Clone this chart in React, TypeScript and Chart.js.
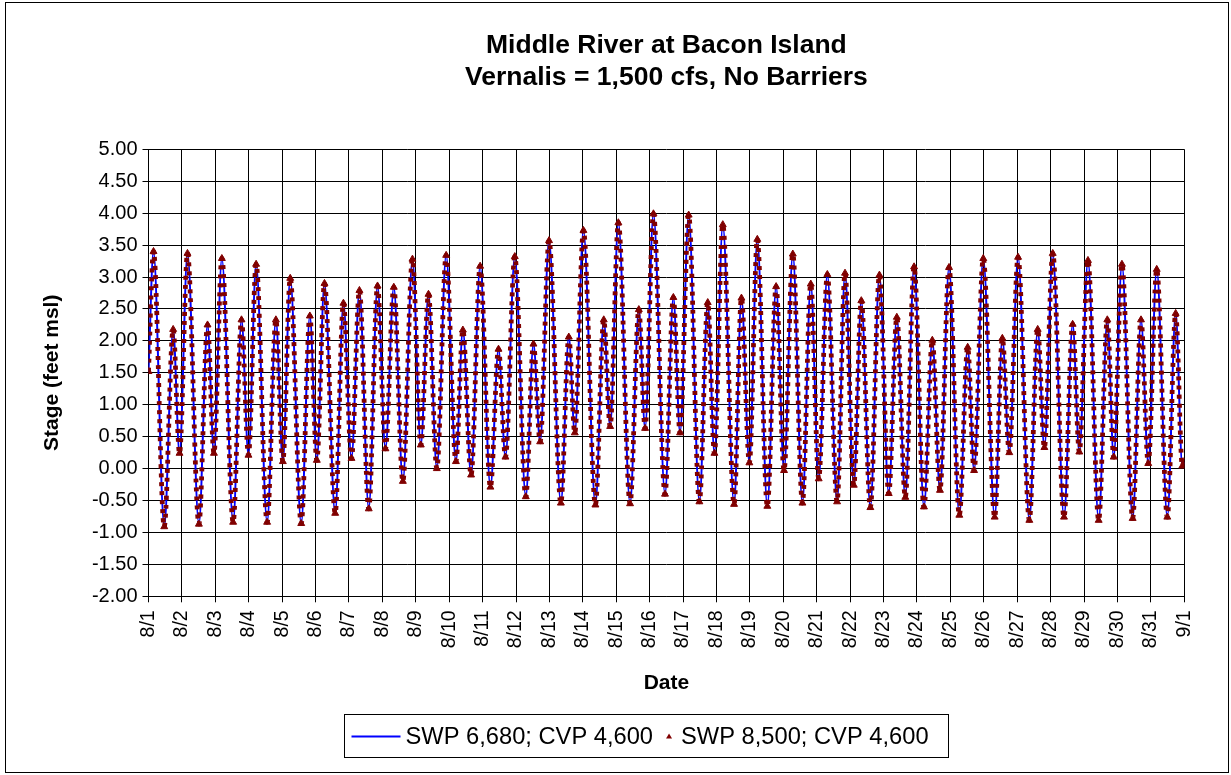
import { useEffect, useRef } from "react";
import { Chart, registerables } from "chart.js";

Chart.register(...registerables);

const FONT = '"Liberation Sans", Arial, Helvetica, sans-serif';

const titleLines = ["Middle River at Bacon Island", "Vernalis = 1,500 cfs, No Barriers"];
const seriesNames = ["SWP 6,680; CVP 4,600", "SWP 8,500; CVP 4,600"];
const yAxisTitle = "Stage (feet msl)";
const xAxisTitle = "Date";

// one label per day boundary, hour 0 = 8/1 00:00
const dayLabels = [
  "8/1", "8/2", "8/3", "8/4", "8/5", "8/6", "8/7", "8/8", "8/9", "8/10",
  "8/11", "8/12", "8/13", "8/14", "8/15", "8/16", "8/17", "8/18", "8/19", "8/20",
  "8/21", "8/22", "8/23", "8/24", "8/25", "8/26", "8/27", "8/28", "8/29", "8/30",
  "8/31", "9/1",
];

// tidal turning points: hours since 8/1 00:00
const tideHours = [
  0, 3.6, 11.3, 17.7, 22.3, 28.0, 36.2, 42.4, 47.0, 52.7,
  60.8, 66.8, 71.8, 77.3, 85.2, 91.5, 96.5, 101.8, 109.7, 115.9,
  120.9, 126.4, 134.1, 140.0, 145.8, 151.5, 158.2, 164.5, 170.2, 176.2,
  182.7, 189.6, 195.6, 201.1, 207.1, 213.8, 220.8, 225.8, 231.7, 238.2,
  245.6, 251.4, 256.4, 263.1, 271.0, 276.5, 281.3, 287.7, 296.2, 301.9,
  306.2, 312.4, 321.0, 327.0, 331.6, 337.5, 345.9, 352.2, 356.7, 362.7,
  371.0, 377.0, 381.8, 388.0, 395.7, 401.7, 406.5, 412.5, 420.6, 425.9,
  431.6, 437.3, 444.5, 450.8, 456.5, 462.8, 469.7, 475.7, 481.4, 487.6,
  494.6, 500.3, 506.6, 512.0, 518.5, 525.0, 531.7, 537.5, 543.6, 549.9,
  557.0, 563.0, 568.5, 575.0, 582.4, 588.4, 593.0, 599.6, 607.8, 613.3,
  618.3, 624.6, 632.7, 638.7, 643.5, 649.5, 657.6, 663.8, 668.6, 674.8,
  682.5, 688.7, 693.3, 699.2, 706.9, 712.9, 718.1, 724.2, 731.8, 737.8,
  742.6, 744.0,
];

// stage (feet msl) at each turning point, SWP 6,680 cfs run
const stageSwp6680 = [
  1.52, 3.40, -0.91, 2.18, 0.24, 3.37, -0.87, 2.25, 0.24, 3.29,
  -0.84, 2.33, 0.21, 3.20, -0.84, 2.33, 0.11, 2.98, -0.86, 2.39,
  0.13, 2.90, -0.70, 2.59, 0.16, 2.79, -0.63, 2.86, 0.31, 2.84,
  -0.20, 3.28, 0.37, 2.73, 0.00, 3.34, 0.11, 2.17, -0.10, 3.17,
  -0.29, 1.87, 0.18, 3.32, -0.44, 1.95, 0.42, 3.57, -0.54, 2.06,
  0.56, 3.73, -0.57, 2.33, 0.66, 3.85, -0.55, 2.49, 0.63, 3.99,
  -0.40, 2.68, 0.56, 3.97, -0.52, 2.60, 0.24, 3.82, -0.56, 2.67,
  0.09, 3.59, -0.59, 2.85, -0.03, 3.36, -0.54, 2.89, -0.16, 3.04,
  -0.52, 3.06, -0.26, 2.63, -0.61, 3.03, -0.39, 2.37, -0.45, 3.16,
  -0.60, 2.01, -0.34, 3.15, -0.73, 1.90, -0.03, 3.29, -0.76, 2.04,
  0.25, 3.31, -0.81, 2.18, 0.33, 3.37, -0.76, 2.26, 0.26, 3.26,
  -0.81, 2.33, 0.18, 3.20, -0.78, 2.33, 0.08, 3.12, -0.76, 2.43,
  0.04, 0.10,
];

// SWP 8,500 cfs run: stage is indistinguishable from the 6,680 cfs run at this scale
const stageSwp8500 = stageSwp6680.slice();

const toPoints = (vals: number[]) => tideHours.map((h, i) => ({ x: h, y: vals[i] }));

const BLUE = "#0000ff";
const DARK_RED = "#800000";

const titlePlugin = {
  id: "centeredTitle",
  afterDraw(chart: any) {
    const { ctx, chartArea } = chart;
    const cx = (chartArea.left + chartArea.right) / 2;
    ctx.save();
    ctx.fillStyle = "#000";
    ctx.font = `bold 26.5px ${FONT}`;
    ctx.textAlign = "center";
    ctx.textBaseline = "middle";
    ctx.fillText(titleLines[0], cx, 46);
    ctx.fillText(titleLines[1], cx, 78);
    ctx.restore();
  },
};

const boxLegendPlugin = {
  id: "boxLegend",
  afterDraw(chart: any) {
    const { ctx } = chart;
    const ds = chart.data.datasets;
    const cy = 736;
    ctx.save();
    ctx.font = `23.7px ${FONT}`;
    ctx.textBaseline = "middle";
    ctx.textAlign = "left";
    const w1 = ctx.measureText(ds[0].label).width;
    const w2 = ctx.measureText(ds[1].label).width;
    const left = 344.5;
    const lineStart = left + 7;
    const lineEnd = lineStart + 49;
    const text1 = lineEnd + 5;
    const tri = text1 + w1 + 16;
    const text2 = tri + 12;
    const right = Math.max(948.5, text2 + w2 + 9);
    ctx.strokeStyle = "#000";
    ctx.lineWidth = 1;
    ctx.strokeRect(left, 714.5, right - left, 43);
    ctx.strokeStyle = ds[0].borderColor;
    ctx.lineWidth = 2;
    ctx.beginPath();
    ctx.moveTo(lineStart, cy + 0.5);
    ctx.lineTo(lineEnd, cy + 0.5);
    ctx.stroke();
    ctx.fillStyle = "#000";
    ctx.fillText(ds[0].label, text1, cy + 1);
    ctx.fillStyle = ds[1].pointBackgroundColor;
    ctx.beginPath();
    ctx.moveTo(tri, cy - 2.5);
    ctx.lineTo(tri + 3, cy + 2.5);
    ctx.lineTo(tri - 3, cy + 2.5);
    ctx.closePath();
    ctx.fill();
    ctx.fillStyle = "#000";
    ctx.fillText(ds[1].label, text2, cy + 1);
    ctx.restore();
  },
};

export default function App() {
  const canvasRef = useRef<HTMLCanvasElement | null>(null);

  useEffect(() => {
    const canvas = canvasRef.current;
    if (!canvas) return;
    const chart = new Chart(canvas, {
      type: "line",
      data: {
        datasets: [
          {
            label: seriesNames[0],
            data: toPoints(stageSwp6680),
            borderColor: BLUE,
            backgroundColor: BLUE,
            borderWidth: 2,
            pointRadius: 0,
            cubicInterpolationMode: "monotone",
            order: 2,
          },
          {
            label: seriesNames[1],
            data: toPoints(stageSwp8500),
            borderColor: DARK_RED,
            backgroundColor: DARK_RED,
            borderWidth: 4.8,
            borderDash: [4, 5],
            borderCapStyle: "butt",
            pointStyle: "triangle",
            pointRadius: 4,
            pointBackgroundColor: DARK_RED,
            pointBorderColor: DARK_RED,
            pointBorderWidth: 1,
            cubicInterpolationMode: "monotone",
            order: 1,
          },
        ],
      },
      options: {
        animation: false,
        responsive: false,
        devicePixelRatio: 1,
        layout: { padding: { top: 149.3, right: 46.7, bottom: 0, left: 0 } },
        plugins: {
          legend: { display: false },
          title: { display: false },
          tooltip: { enabled: false },
        },
        scales: {
          x: {
            type: "linear",
            min: 0,
            max: 744,
            afterFit: (scale: any) => {
              scale.height = 775 - 596.3;
            },
            ticks: {
              stepSize: 24,
              maxTicksLimit: 40,
              autoSkip: false,
              minRotation: 90,
              maxRotation: 90,
              padding: 8,
              color: "#000",
              font: { family: FONT, size: 19.5 },
              callback: (v: any) => dayLabels[Math.round(Number(v) / 24)] ?? "",
            },
            grid: { color: "#000", lineWidth: 1, tickLength: 6, drawTicks: true },
            border: { display: true, color: "#000", width: 1 },
            title: {
              display: true,
              text: xAxisTitle,
              color: "#000",
              font: { family: FONT, size: 21, weight: "bold" },
              padding: { top: 0, bottom: 79 },
            },
          },
          y: {
            type: "linear",
            min: -2,
            max: 5,
            afterFit: (scale: any) => {
              scale.width = 148.5;
            },
            ticks: {
              stepSize: 0.5,
              padding: 5,
              color: "#000",
              font: { family: FONT, size: 20 },
              callback: (v: any) => Number(v).toFixed(2),
            },
            grid: { color: "#000", lineWidth: 1, tickLength: 6, drawTicks: true },
            border: { display: true, color: "#000", width: 1 },
            title: {
              display: true,
              text: yAxisTitle,
              color: "#000",
              font: { family: FONT, size: 21, weight: "bold" },
              padding: { top: 40, bottom: 0 },
            },
          },
        },
      } as any,
      plugins: [titlePlugin, boxLegendPlugin],
    });
    return () => chart.destroy();
  }, []);

  return (
    <div
      style={{
        position: "fixed",
        left: 0,
        top: 0,
        width: 1231,
        height: 775,
        background: "#fff",
        overflow: "hidden",
      }}
    >
      <div
        style={{
          position: "absolute",
          left: 5,
          top: 2,
          width: 1224,
          height: 771,
          border: "1px solid #000",
          boxSizing: "border-box",
        }}
      />
      <canvas
        ref={canvasRef}
        width={1231}
        height={775}
        style={{ position: "absolute", left: 0, top: 0 }}
      />
    </div>
  );
}
